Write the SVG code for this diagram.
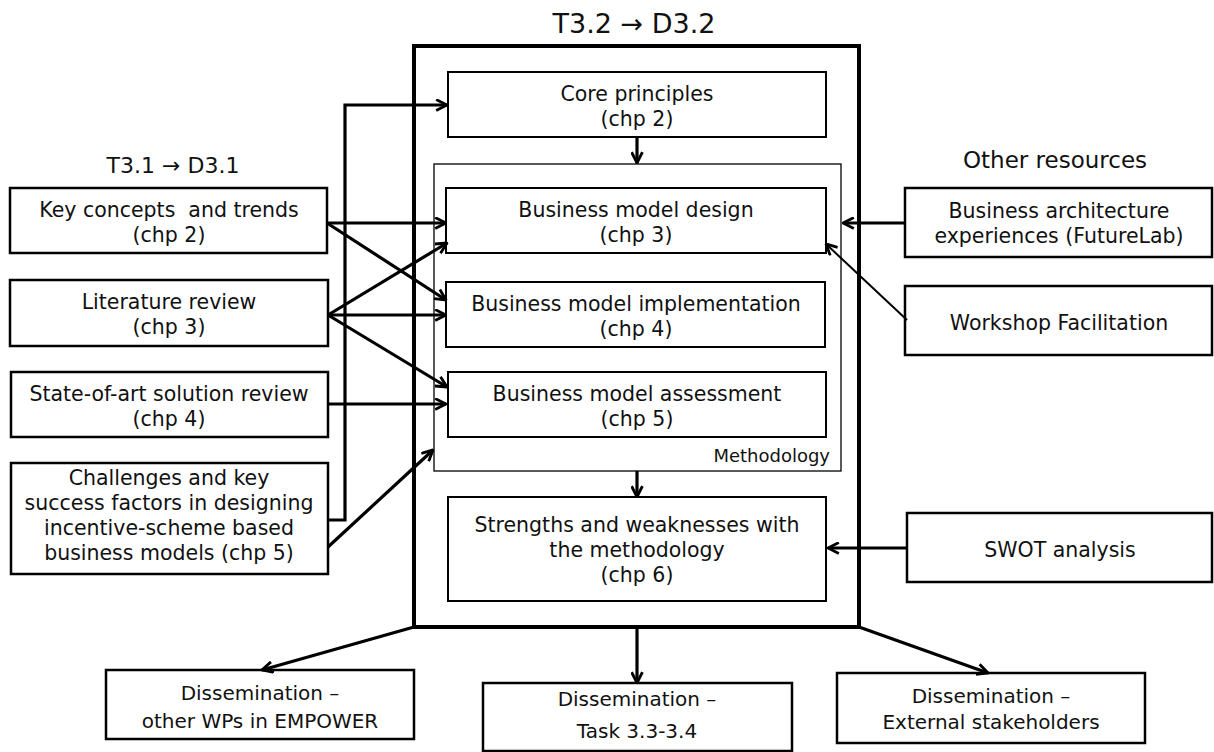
<svg xmlns="http://www.w3.org/2000/svg" width="1214" height="752" viewBox="0 0 1214 752">
<style>
text{font-family:"DejaVu Sans","Liberation Sans",sans-serif;font-size:20.5px;fill:#111;text-anchor:middle}
.t{font-size:20px}
.box{fill:#fff;stroke:#000;stroke-width:2.5}
.ibox{fill:#fff;stroke:#000;stroke-width:2}
.c{fill:none;stroke:#000;stroke-width:3.2}
.thin{stroke-width:2}
</style>
<defs>
<marker id="ah" viewBox="0 0 12 12" refX="11" refY="6" markerWidth="13" markerHeight="13" markerUnits="userSpaceOnUse" orient="auto">
<path d="M1,1 L11,6 L1,11" fill="none" stroke="#000" stroke-width="2.6"/>
</marker>
</defs>
<rect width="1214" height="752" fill="#fff"/>

<g id="t32">
<rect x="414" y="46" width="445" height="581" fill="#fff" stroke="#000" stroke-width="4"/>
<text x="634" y="33" style="font-size:27px">T3.2 → D3.2</text>
</g>
<g id="methodology">
<rect x="434" y="164" width="407" height="307" fill="#fff" stroke="#000" stroke-width="1.3"/>
<text x="830" y="462" style="font-size:18px;text-anchor:end">Methodology</text>
</g>
<g id="core"><rect class="ibox" x="448" y="72" width="378" height="65"/><text x="637" y="101">Core principles</text><text x="637" y="126">(chp 2)</text></g>
<g id="design"><rect class="ibox" x="446" y="188" width="380" height="65"/><text x="636" y="217">Business model design</text><text x="636" y="242">(chp 3)</text></g>
<g id="impl"><rect class="ibox" x="446" y="282" width="379" height="65"/><text x="636" y="311">Business model implementation</text><text x="636" y="336">(chp 4)</text></g>
<g id="assess"><rect class="ibox" x="448" y="372" width="378" height="65"/><text x="637" y="401">Business model assessment</text><text x="637" y="426">(chp 5)</text></g>
<g id="strengths"><rect class="ibox" x="448" y="497" width="378" height="104"/><text x="637" y="532">Strengths and weaknesses with</text><text x="637" y="557">the methodology</text><text x="637" y="582">(chp 6)</text></g>

<g id="t31label"><text x="173" y="173" style="font-size:22px">T3.1 → D3.1</text></g>
<g id="key"><rect class="box" x="10" y="188" width="317" height="65"/><text x="169" y="217" xml:space="preserve">Key concepts  and trends</text><text x="169" y="242">(chp 2)</text></g>
<g id="lit"><rect class="box" x="10" y="280" width="318" height="66"/><text x="169" y="309">Literature review</text><text x="169" y="334">(chp 3)</text></g>
<g id="state"><rect class="box" x="11" y="372" width="317" height="65"/><text x="169" y="401">State-of-art solution review</text><text x="169" y="426">(chp 4)</text></g>
<g id="chall"><rect class="box" x="11" y="463" width="317" height="111"/><text x="169" y="485">Challenges and key</text><text x="169" y="510">success factors in designing</text><text x="169" y="535">incentive-scheme based</text><text x="169" y="560">business models (chp 5)</text></g>

<g id="otherlabel"><text x="1055" y="168" style="font-size:23px">Other resources</text></g>
<g id="arch"><rect class="box" x="905" y="188" width="307" height="69"/><text x="1059" y="218">Business architecture</text><text x="1059" y="243">experiences (FutureLab)</text></g>
<g id="workshop"><rect class="box" x="905" y="286" width="307" height="69"/><text x="1059" y="330">Workshop Facilitation</text></g>
<g id="swot"><rect class="box" x="907" y="513" width="305" height="69"/><text x="1060" y="557">SWOT analysis</text></g>

<g id="dis1"><rect class="box" x="106" y="670" width="308" height="69"/><text class="t" x="260" y="700">Dissemination –</text><text class="t" x="260" y="728">other WPs in EMPOWER</text></g>
<g id="dis2"><rect class="box" x="483" y="683" width="309" height="68"/><text class="t" x="637" y="706">Dissemination –</text><text class="t" x="637" y="738">Task 3.3-3.4</text></g>
<g id="dis3"><rect class="box" x="837" y="673" width="308" height="70"/><text class="t" x="991" y="703">Dissemination –</text><text class="t" x="991" y="729">External stakeholders</text></g>

<g id="connectors">
<polyline class="c" points="328,520 345,520 345,105 447,105" marker-end="url(#ah)"/>
<line class="c" x1="327" y1="223" x2="446" y2="223" marker-end="url(#ah)"/>
<line class="c" x1="327" y1="223" x2="446" y2="300" marker-end="url(#ah)"/>
<line class="c" x1="328" y1="315" x2="447" y2="243" marker-end="url(#ah)"/>
<line class="c" x1="328" y1="315" x2="446" y2="315" marker-end="url(#ah)"/>
<line class="c" x1="328" y1="315" x2="447" y2="387" marker-end="url(#ah)"/>
<line class="c" x1="328" y1="404" x2="446" y2="404" marker-end="url(#ah)"/>
<line class="c" x1="328" y1="547" x2="433" y2="450" marker-end="url(#ah)"/>
<line class="c" x1="905" y1="223" x2="843" y2="223" marker-end="url(#ah)"/>
<line class="c thin" x1="907" y1="320" x2="826" y2="244" marker-end="url(#ah)"/>
<line class="c" x1="907" y1="548" x2="828" y2="548" marker-end="url(#ah)"/>
<line class="c" x1="637" y1="137" x2="637" y2="163" marker-end="url(#ah)"/>
<line class="c" x1="637" y1="471" x2="637" y2="497" marker-end="url(#ah)"/>
<line class="c" x1="414" y1="627" x2="262" y2="670" marker-end="url(#ah)"/>
<line class="c" x1="637" y1="627" x2="637" y2="683" marker-end="url(#ah)"/>
<line class="c" x1="859" y1="627" x2="988" y2="673" marker-end="url(#ah)"/>
</g>
</svg>
